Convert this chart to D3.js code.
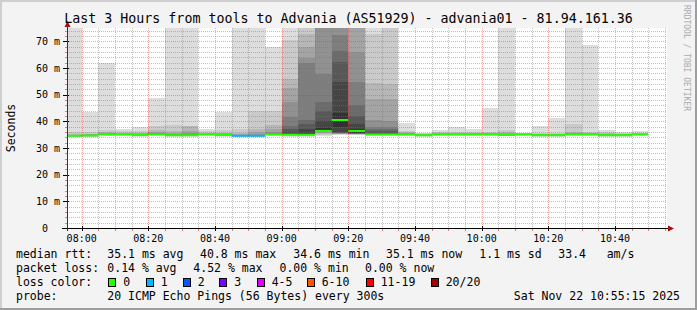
<!DOCTYPE html>
<html>
<head>
<meta charset="utf-8">
<script src="https://cdn.jsdelivr.net/npm/d3@7"></script>
<style>
  html, body { margin: 0; padding: 0; background: #f3f3f3; }
  svg { display: block; }
  svg text { font-family: "DejaVu Sans Mono", monospace; white-space: pre; }
</style>
</head>
<body>
<svg id="chart"></svg>
<script>
// 5 minute steps, start time of each step
const stepStarts = ["07:55", "08:00", "08:05", "08:10", "08:15", "08:20", "08:25", "08:30", "08:35",
    "08:40", "08:45", "08:50", "08:55", "09:00", "09:05", "09:10", "09:15", "09:20", "09:25", "09:30",
    "09:35", "09:40", "09:45", "09:50", "09:55", "10:00", "10:05", "10:10", "10:15", "10:20", "10:25",
    "10:30", "10:35", "10:40", "10:45"];

// median rtt (ms) per step
const medians = [34.6, 34.7, 35.1, 35.1, 34.9, 35.1, 34.8, 34.8, 35.1, 34.9, 34.6, 34.6, 35.1, 35.0,
    35.0, 36.4, 40.5, 36.4, 35.1, 35.1, 35.1, 34.8, 35.1, 35.1, 35.1, 35.1, 34.9, 35.1, 34.8, 34.8,
    35.1, 35.1, 34.8, 34.8, 35.1];

// lost pings per step
const lossCounts = [0, 0, 0, 0, 0, 0, 0, 0, 0, 0, 1, 1, 0, 0, 0, 0, 0, 0, 0, 0, 0, 0, 0, 0, 0, 0, 0, 0,
    0, 0, 0, 0, 0, 0, 0];

// the 20 sorted pings (ms) per step, used for the smoke
const pings = [
    [34.0, 34.2, 34.3, 34.4, 34.4, 34.5, 34.5, 34.5, 34.6, 34.6, 34.6, 34.7, 34.7, 34.8, 34.8, 34.9, 35.0, 35.2, 36.0, 92.0],
    [34.1, 34.3, 34.4, 34.5, 34.5, 34.6, 34.6, 34.6, 34.7, 34.7, 34.7, 34.8, 34.8, 34.9, 34.9, 35.0, 35.1, 35.4, 36.1, 43.6],
    [34.5, 34.7, 34.8, 34.9, 34.9, 35.0, 35.0, 35.0, 35.1, 35.1, 35.1, 35.2, 35.2, 35.3, 35.4, 35.5, 35.7, 36.1, 36.8, 61.9],
    [34.6, 34.7, 34.8, 34.9, 34.9, 35.0, 35.0, 35.0, 35.1, 35.1, 35.1, 35.2, 35.2, 35.3, 35.3, 35.4, 35.6, 35.8, 36.2, 37.1],
    [34.3, 34.5, 34.6, 34.7, 34.7, 34.8, 34.8, 34.8, 34.9, 34.9, 34.9, 35.0, 35.0, 35.1, 35.2, 35.3, 35.5, 35.8, 36.4, 37.9],
    [34.5, 34.7, 34.8, 34.9, 34.9, 35.0, 35.0, 35.0, 35.1, 35.1, 35.1, 35.2, 35.3, 35.4, 35.5, 35.6, 35.9, 36.8, 38.3, 48.9],
    [34.2, 34.4, 34.5, 34.6, 34.6, 34.7, 34.7, 34.7, 34.8, 34.8, 34.8, 34.9, 35.0, 35.1, 35.2, 35.4, 35.7, 36.5, 38.7, 86.0],
    [34.2, 34.4, 34.5, 34.6, 34.6, 34.7, 34.7, 34.7, 34.8, 34.8, 34.8, 34.9, 35.0, 35.1, 35.3, 35.6, 36.5, 38.1, 38.4, 90.0],
    [34.6, 34.7, 34.8, 34.9, 34.9, 35.0, 35.0, 35.0, 35.1, 35.1, 35.1, 35.2, 35.2, 35.3, 35.3, 35.4, 35.6, 35.8, 36.2, 37.2],
    [34.3, 34.5, 34.6, 34.7, 34.7, 34.8, 34.8, 34.8, 34.9, 34.9, 34.9, 35.0, 35.0, 35.1, 35.2, 35.3, 35.5, 35.8, 36.6, 43.6],
    [34.0, 34.2, 34.3, 34.4, 34.4, 34.5, 34.5, 34.5, 34.6, 34.6, 34.6, 34.7, 34.7, 34.8, 34.9, 35.0, 35.3, 35.8, 37.3, 95.0],
    [34.0, 34.2, 34.3, 34.4, 34.4, 34.5, 34.5, 34.5, 34.6, 34.6, 34.6, 34.7, 34.8, 34.9, 35.0, 35.2, 36.0, 37.1, 43.9, 84.0],
    [34.5, 34.7, 34.8, 34.9, 34.9, 35.0, 35.0, 35.0, 35.1, 35.1, 35.1, 35.2, 35.3, 35.4, 35.6, 36.1, 37.1, 38.6, 43.9, 68.0],
    [34.3, 34.5, 34.6, 34.7, 34.8, 34.8, 34.9, 34.9, 35.0, 35.0, 35.4, 36.0, 37.0, 38.4, 41.5, 47.2, 52.4, 55.8, 70.5, 88.0],
    [34.2, 34.5, 34.6, 34.7, 34.8, 34.8, 34.9, 34.9, 35.0, 35.0, 35.8, 37.0, 39.0, 40.5, 62.0, 63.8, 68.0, 72.6, 82.0, 94.0],
    [34.6, 35.0, 35.4, 35.7, 35.9, 36.0, 36.1, 36.2, 36.3, 36.4, 37.5, 40.0, 43.9, 47.1, 57.6, 78.0, 82.0, 88.0, 95.0, 105.0],
    [35.0, 35.1, 35.2, 35.3, 35.4, 35.5, 35.6, 35.8, 36.0, 38.0, 43.0, 54.9, 62.4, 66.4, 72.4, 80.0, 85.0, 90.0, 98.0, 110.0],
    [34.8, 35.0, 35.1, 35.2, 35.3, 35.3, 35.4, 35.5, 35.5, 35.6, 37.2, 39.0, 42.0, 46.1, 54.9, 65.9, 80.0, 86.0, 92.0, 100.0],
    [34.5, 34.7, 34.8, 34.9, 34.9, 35.0, 35.0, 35.0, 35.1, 35.1, 35.3, 35.7, 36.2, 37.0, 38.0, 40.5, 48.5, 54.3, 72.6, 84.0],
    [34.5, 34.7, 34.8, 34.9, 34.9, 35.0, 35.0, 35.0, 35.1, 35.1, 35.3, 35.6, 36.2, 37.0, 38.0, 40.0, 48.4, 54.0, 78.0, 88.0],
    [34.6, 34.7, 34.8, 34.9, 34.9, 35.0, 35.0, 35.0, 35.1, 35.1, 35.1, 35.2, 35.2, 35.3, 35.4, 35.5, 35.7, 36.0, 36.5, 39.3],
    [34.3, 34.4, 34.5, 34.6, 34.6, 34.7, 34.7, 34.7, 34.8, 34.8, 34.8, 34.9, 34.9, 35.0, 35.0, 35.1, 35.2, 35.3, 35.5, 35.7],
    [34.6, 34.7, 34.8, 34.9, 34.9, 35.0, 35.0, 35.0, 35.1, 35.1, 35.1, 35.2, 35.2, 35.3, 35.3, 35.4, 35.5, 35.7, 36.0, 36.6],
    [34.6, 34.7, 34.8, 34.9, 34.9, 35.0, 35.0, 35.0, 35.1, 35.1, 35.1, 35.2, 35.2, 35.3, 35.3, 35.4, 35.5, 35.7, 36.0, 37.7],
    [34.6, 34.7, 34.8, 34.9, 34.9, 35.0, 35.0, 35.0, 35.1, 35.1, 35.1, 35.2, 35.2, 35.3, 35.3, 35.4, 35.5, 35.6, 35.9, 37.1],
    [34.6, 34.7, 34.8, 34.9, 34.9, 35.0, 35.0, 35.0, 35.1, 35.1, 35.1, 35.2, 35.2, 35.3, 35.3, 35.4, 35.5, 35.7, 36.0, 45.1],
    [34.4, 34.5, 34.6, 34.7, 34.7, 34.8, 34.8, 34.8, 34.9, 34.9, 34.9, 35.0, 35.0, 35.1, 35.2, 35.3, 35.5, 36.0, 36.8, 86.0],
    [34.6, 34.7, 34.8, 34.9, 34.9, 35.0, 35.0, 35.0, 35.1, 35.1, 35.1, 35.1, 35.2, 35.2, 35.3, 35.3, 35.4, 35.5, 35.6, 35.7],
    [34.3, 34.4, 34.5, 34.6, 34.6, 34.7, 34.7, 34.7, 34.8, 34.8, 34.8, 34.9, 34.9, 35.0, 35.0, 35.1, 35.2, 35.4, 35.8, 38.2],
    [34.3, 34.4, 34.5, 34.6, 34.6, 34.7, 34.7, 34.7, 34.8, 34.8, 34.8, 34.9, 34.9, 35.0, 35.0, 35.1, 35.2, 35.4, 35.8, 41.4],
    [34.6, 34.7, 34.8, 34.9, 34.9, 35.0, 35.0, 35.0, 35.1, 35.1, 35.1, 35.2, 35.2, 35.3, 35.4, 35.5, 35.7, 36.0, 39.0, 91.0],
    [34.6, 34.7, 34.8, 34.9, 34.9, 35.0, 35.0, 35.0, 35.1, 35.1, 35.1, 35.2, 35.2, 35.3, 35.3, 35.4, 35.5, 35.7, 36.0, 68.6],
    [34.3, 34.4, 34.5, 34.6, 34.6, 34.7, 34.7, 34.7, 34.8, 34.8, 34.8, 34.9, 34.9, 35.0, 35.0, 35.1, 35.3, 35.5, 36.0, 36.8],
    [34.3, 34.4, 34.5, 34.6, 34.6, 34.7, 34.7, 34.7, 34.8, 34.8, 34.8, 34.9, 34.9, 35.0, 35.0, 35.1, 35.2, 35.4, 35.6, 36.0],
    [34.6, 34.7, 34.8, 34.9, 34.9, 35.0, 35.0, 35.0, 35.1, 35.1, 35.1, 35.1, 35.2, 35.2, 35.3, 35.3, 35.4, 35.6, 35.8, 36.2]
];

const yTickValues = [0, 10, 20, 30, 40, 50, 60, 70];
const yTickLabels = ["0  ", "10 m", "20 m", "30 m", "40 m", "50 m", "60 m", "70 m"];
const xTickLabels = ["08:00", "08:20", "08:40", "09:00", "09:20", "09:40", "10:00", "10:20", "10:40"];

const lossLabels = ["0", "1", "2", "3", "4-5", "6-10", "11-19", "20/20"];
const lossColors = ["#26ff00", "#00b8ff", "#0059ff", "#7e00ff", "#dd00ff", "#ff5500", "#ff0000", "#a10000"];

const rttStats = ["35.1 ms avg", "40.8 ms max", "34.6 ms min", "35.1 ms now", "1.1 ms sd", "33.4", "am/s"];
const lossStats = ["0.14 % avg", "4.52 % max", "0.00 % min", "0.00 % now"];

const titleText = "Last 3 Hours from tools to Advania (AS51929) - advania01 - 81.94.161.36";
const probeText = "20 ICMP Echo Pings (56 Bytes) every 300s";
const stampText = "Sat Nov 22 10:55:15 2025";


const W = 697, H = 310;
const plot = { left: 67, right: 667, top: 28, bottom: 228 };
const parseTime = d3.timeParse("%H:%M:%S");
const parseHM = d3.timeParse("%H:%M");

const svg = d3.select("#chart").attr("width", W).attr("height", H);

// background + 3d frame
svg.append("rect").attr("width", W).attr("height", H).attr("fill", "#f3f3f3");
svg.append("rect").attr("x", 0).attr("y", 0).attr("width", W).attr("height", 2).attr("fill", "#cfcfcf");
svg.append("rect").attr("x", 0).attr("y", 0).attr("width", 2).attr("height", H).attr("fill", "#cfcfcf");
svg.append("rect").attr("x", 0).attr("y", H - 2).attr("width", W).attr("height", 2).attr("fill", "#9e9e9e");
svg.append("rect").attr("x", W - 2).attr("y", 0).attr("width", 2).attr("height", H).attr("fill", "#9e9e9e");

svg.append("rect")
    .attr("x", plot.left).attr("y", plot.top)
    .attr("width", plot.right - plot.left).attr("height", plot.bottom - plot.top)
    .attr("fill", "#fff");

const x = d3.scaleTime()
    .domain([parseTime("07:55:36"), parseTime("10:55:36")])
    .range([plot.left, plot.right]);

const y = d3.scaleLinear()
    .domain([0, 75])
    .range([plot.bottom, plot.top]);

svg.append("clipPath").attr("id", "plotclip")
    .append("rect")
    .attr("x", plot.left).attr("y", plot.top)
    .attr("width", plot.right - plot.left).attr("height", plot.bottom - plot.top);

// smoke: band i goes from ping i to ping 21-i, inner bands darker
const smokeGray = d3.range(10).map(i => {
    const v = Math.floor(190 / 10 * (9 - i)) + 50;
    return d3.rgb(v, v, v).formatHex();
});

const smoke = svg.append("g").attr("clip-path", "url(#plotclip)").attr("shape-rendering", "crispEdges");
pings.forEach((p, k) => {
    const t0 = parseHM(stepStarts[k]);
    const x0 = x(t0), x1 = x(d3.timeMinute.offset(t0, 5));
    for (let i = 0; i < 10; i++) {
        const lo = p[i], hi = Math.min(p[19 - i], 80);
        smoke.append("rect")
            .attr("x", x0)
            .attr("width", x1 - x0)
            .attr("y", y(hi))
            .attr("height", y(lo) - y(hi))
            .attr("fill", smokeGray[i]);
    }
});

// grid on top of the smoke
const grid = svg.append("g").attr("shape-rendering", "crispEdges");
const minorColor = "rgba(120,120,120,0.45)";
const majorColor = "rgba(230,40,40,0.4)";

d3.range(2, 75, 2).filter(v => v % 10 !== 0).forEach(v => {
    grid.append("line")
        .attr("x1", plot.left).attr("x2", plot.right)
        .attr("y1", Math.round(y(v)) + 0.5).attr("y2", Math.round(y(v)) + 0.5)
        .attr("stroke", minorColor).attr("stroke-dasharray", "1,1");
});
yTickValues.filter(v => v > 0).forEach(v => {
    grid.append("line")
        .attr("x1", plot.left).attr("x2", plot.right)
        .attr("y1", Math.round(y(v)) + 0.5).attr("y2", Math.round(y(v)) + 0.5)
        .attr("stroke", majorColor).attr("stroke-dasharray", "1,1");
});

const majorTimes = xTickLabels.map(parseHM);
const minorTimes = x.ticks(d3.timeMinute.every(5))
    .filter(t => !majorTimes.some(m => +m === +t));

minorTimes.forEach(t => {
    grid.append("line")
        .attr("x1", Math.round(x(t)) + 0.5).attr("x2", Math.round(x(t)) + 0.5)
        .attr("y1", plot.top).attr("y2", plot.bottom)
        .attr("stroke", minorColor).attr("stroke-dasharray", "1,1");
    grid.append("line")
        .attr("x1", Math.round(x(t)) + 0.5).attr("x2", Math.round(x(t)) + 0.5)
        .attr("y1", plot.bottom + 1).attr("y2", plot.bottom + 3)
        .attr("stroke", "#e08080");
});
majorTimes.forEach(t => {
    grid.append("line")
        .attr("x1", Math.round(x(t)) + 0.5).attr("x2", Math.round(x(t)) + 0.5)
        .attr("y1", plot.top).attr("y2", plot.bottom)
        .attr("stroke", majorColor).attr("stroke-dasharray", "1,1");
    grid.append("line")
        .attr("x1", Math.round(x(t)) + 0.5).attr("x2", Math.round(x(t)) + 0.5)
        .attr("y1", plot.bottom - 2).attr("y2", plot.bottom + 3)
        .attr("stroke", "#000");
});

d3.range(2, 75, 2).forEach(v => {
    grid.append("line")
        .attr("x1", plot.left - (v % 10 === 0 ? 4 : 2)).attr("x2", plot.left + (v % 10 === 0 ? 2 : 0))
        .attr("y1", Math.round(y(v)) + 0.5).attr("y2", Math.round(y(v)) + 0.5)
        .attr("stroke", v % 10 === 0 ? "#000" : "#e08080");
});

// median line, coloured by loss
const medianG = svg.append("g").attr("clip-path", "url(#plotclip)");
medians.forEach((m, k) => {
    const t0 = parseHM(stepStarts[k]);
    medianG.append("line")
        .attr("x1", x(t0)).attr("x2", x(d3.timeMinute.offset(t0, 5)))
        .attr("y1", y(m)).attr("y2", y(m))
        .attr("stroke", lossColors[lossCounts[k]])
        .attr("stroke-width", 2);
});

// axes
svg.append("line")
    .attr("x1", plot.left - 5).attr("x2", plot.right + 3)
    .attr("y1", plot.bottom + 0.5).attr("y2", plot.bottom + 0.5)
    .attr("stroke", "#000");
svg.append("line")
    .attr("x1", plot.left + 0.5).attr("x2", plot.left + 0.5)
    .attr("y1", plot.bottom + 3).attr("y2", plot.top - 3)
    .attr("stroke", "#333");
svg.append("path")
    .attr("d", `M${plot.left - 2.5},${plot.top - 1} L${plot.left + 3.5},${plot.top - 1} L${plot.left + 0.5},${plot.top - 7} Z`)
    .attr("fill", "#a01010");
svg.append("path")
    .attr("d", `M${plot.right + 1},${plot.bottom - 2.5} L${plot.right + 1},${plot.bottom + 3.5} L${plot.right + 7},${plot.bottom + 0.5} Z`)
    .attr("fill", "#a01010");

// tick labels
svg.append("g").selectAll("text")
    .data(yTickValues)
    .join("text")
    .attr("x", 60)
    .attr("y", d => y(d))
    .attr("dy", "0.36em")
    .attr("text-anchor", "end")
    .attr("font-size", "10px")
    .text((d, i) => yTickLabels[i]);

svg.append("g").selectAll("text")
    .data(majorTimes)
    .join("text")
    .attr("x", d => x(d))
    .attr("y", 242)
    .attr("text-anchor", "middle")
    .attr("font-size", "10px")
    .text((d, i) => xTickLabels[i]);

// titles
svg.append("text")
    .attr("x", W / 2).attr("y", 23)
    .attr("text-anchor", "middle")
    .attr("font-size", "13.3px")
    .text(titleText);

svg.append("text")
    .attr("transform", `translate(15,${(plot.top + plot.bottom) / 2}) rotate(-90)`)
    .attr("text-anchor", "middle")
    .attr("font-size", "11.5px")
    .text("Seconds");

svg.append("text")
    .attr("transform", "translate(684,5) rotate(90)")
    .attr("font-size", "8px")
    .attr("fill", "#aaaaaa")
    .text("RRDTOOL / TOBI OETIKER");

// legend
const legend = svg.append("g").attr("font-size", "11.5px");
const rowY = [258.3, 272.3, 286.3, 300.3];

legend.append("text").attr("x", 16).attr("y", rowY[0]).text("median rtt:");
const rttX = [107.3, 200, 293.3, 386, 479.3, 558.3, 606.7];
rttStats.forEach((s, i) => legend.append("text").attr("x", rttX[i]).attr("y", rowY[0]).text(s));

legend.append("text").attr("x", 16).attr("y", rowY[1]).text("packet loss:");
const lossX = [107.3, 193.3, 279.5, 365];
lossStats.forEach((s, i) => legend.append("text").attr("x", lossX[i]).attr("y", rowY[1]).text(s));

legend.append("text").attr("x", 16).attr("y", rowY[2]).text("loss color:");
const boxX = [108.3, 145.7, 182.7, 219.3, 256.7, 306.7, 365.7, 430.7];
lossLabels.forEach((s, i) => {
    legend.append("rect")
        .attr("x", Math.round(boxX[i]) + 0.5).attr("y", 278.5)
        .attr("width", 7).attr("height", 8)
        .attr("fill", lossColors[i])
        .attr("stroke", "#000");
    legend.append("text").attr("x", boxX[i] + 15).attr("y", rowY[2]).text(s);
});

legend.append("text").attr("x", 16).attr("y", rowY[3]).text("probe:");
legend.append("text").attr("x", 107.3).attr("y", rowY[3]).text(probeText);
legend.append("text").attr("x", 680).attr("y", rowY[3]).attr("text-anchor", "end").text(stampText);
</script>
</body>
</html>
